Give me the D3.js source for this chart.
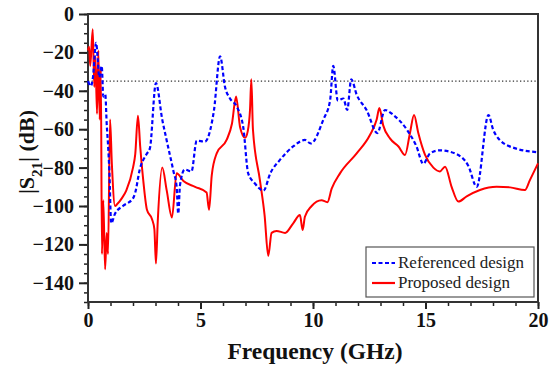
<!DOCTYPE html>
<html>
<head>
<meta charset="utf-8">
<script src="https://cdn.jsdelivr.net/npm/d3@7"></script>
<style>
  body { margin: 0; background: #fff; }
  svg text { font-family: "Liberation Serif", "Times New Roman", serif; }
</style>
</head>
<body>
<svg id="chart" width="550" height="366"></svg>
<script>
// readings (GHz, dB)
var refFreq = [0.0, 0.13, 0.22, 0.36, 0.43, 0.5, 0.61, 0.68, 0.77, 0.83, 0.9, 0.95, 1.03, 1.2, 1.55, 2.0, 2.1, 2.3, 2.6, 2.75,
  3.02, 3.3, 3.5, 3.8, 3.94, 4.01, 4.09, 4.3, 4.6, 4.83, 5.2, 5.42, 5.6, 5.87, 6.09, 6.31, 6.6, 6.9, 7.12, 7.4, 7.8, 8.1,
  8.53, 9.12, 9.64, 9.9, 10.46, 10.76, 10.9, 11.1, 11.35, 11.52, 11.7, 11.94, 12.38, 12.86, 13.2, 13.57, 14.16, 14.6, 14.9,
  15.2, 15.64, 16.3, 16.9, 17.28, 17.8, 18.0, 18.3, 19.0, 20.0];
var refS21 = [-35, -37.5, -33, -15, -23, -33, -27, -43, -42, -57, -70, -82, -109, -104, -100, -96, -93, -81, -73, -70,
  -36, -55, -66, -82, -90, -104, -89, -81, -82, -66, -66.5, -61, -50, -22, -38, -44, -48, -59, -83, -88, -92, -83,
  -76, -69, -65.6, -67.4, -55, -45, -27, -45, -44, -50, -34, -42, -50, -62, -50, -52.6, -60, -69, -78,
  -72.6, -71, -72.6, -79, -90, -52.6, -60, -65.6, -70, -72];

var propFreq = [0.0, 0.05, 0.1, 0.21, 0.28, 0.33, 0.4, 0.46, 0.52, 0.57, 0.62, 0.68, 0.76, 0.83, 0.89, 0.98, 1.06, 1.2, 1.3,
  1.5, 1.7, 2.0, 2.1, 2.22, 2.32, 2.45, 2.62, 2.85, 2.95, 3.02, 3.1, 3.3, 3.5, 3.73, 3.94, 4.24, 4.76, 5.27, 5.38, 5.5,
  5.72, 6.16, 6.4, 6.58, 6.76, 6.98, 7.1, 7.2, 7.26, 7.33, 7.64, 7.85, 8.01, 8.16, 8.38, 8.76, 9.12, 9.42, 9.54, 9.64,
  9.94, 10.38, 10.64, 10.83, 11.2, 11.94, 12.53, 12.83, 12.95, 13.12, 13.42, 13.8, 14.09, 14.31, 14.49, 14.68, 14.98,
  15.35, 15.64, 15.87, 16.16, 16.46, 16.83, 17.42, 18.16, 18.76, 19.42, 19.64, 20.0];
var propS21 = [-19, -17, -27, -8, -38, -22, -52, -19, -55, -29, -125, -97, -133, -114, -125, -55, -78, -100, -99,
  -96, -92, -80, -73, -53, -69, -86, -102, -107, -112, -130, -108, -80, -92, -106, -83, -87, -90, -93, -102, -84,
  -72.6, -65.6, -57, -43, -59, -64.5, -61, -50, -34, -60, -86.5, -105, -126, -114, -113, -114, -109, -104.7, -112.5, -105.6,
  -100, -97, -98, -91, -83, -72.6, -63, -55, -49, -58, -64.8, -69, -73.4, -62, -52.6, -62, -73.4,
  -80, -82, -79.5, -90, -97.7, -95, -91.7, -90, -90.3, -91.7, -86.5, -77.8];

var threshold = -35;
var xMajor = [0, 5, 10, 15, 20];
var yMajor = [0, -20, -40, -60, -80, -100, -120, -140];
var legendNames = ["Referenced design", "Proposed design"];

var svg = d3.select("#chart");
var margin = {top: 14, right: 12, bottom: 64, left: 88};
var width = 550 - margin.left - margin.right,
    height = 366 - margin.top - margin.bottom;

var g = svg.append("g")
    .attr("transform", "translate(" + margin.left + "," + margin.top + ")");

var x = d3.scaleLinear().domain([0, 20]).range([0, width]);
var y = d3.scaleLinear().domain([-150, 0]).range([height, 0]);

// minor ticks
g.append("g")
    .attr("transform", "translate(0," + height + ")")
    .call(d3.axisBottom(x).tickValues(d3.range(0, 21, 1)).tickSize(4).tickFormat(""))
    .call(s => s.select(".domain").remove())
    .selectAll("line").attr("stroke", "#222").attr("stroke-width", 1.5);

g.append("g")
    .call(d3.axisLeft(y).tickValues(d3.range(-150, 1, 5)).tickSize(4).tickFormat(""))
    .call(s => s.select(".domain").remove())
    .selectAll("line").attr("stroke", "#222").attr("stroke-width", 1.5);

// major ticks + labels
var xAxis = g.append("g")
    .attr("transform", "translate(0," + height + ")")
    .call(d3.axisBottom(x).tickValues(xMajor).tickSize(7).tickPadding(4));

var yAxis = g.append("g")
    .call(d3.axisLeft(y).tickValues(yMajor).tickSize(9).tickPadding(5));

[xAxis, yAxis].forEach(function(a) {
  a.select(".domain").remove();
  a.selectAll("line").attr("stroke", "#222").attr("stroke-width", 2);
  a.selectAll("text")
    .style("font-family", "'Liberation Serif', serif")
    .style("font-size", "20px")
    .style("font-weight", "bold")
    .attr("fill", "#111");
});

// frame
g.append("rect")
    .attr("width", width).attr("height", height)
    .attr("fill", "none").attr("stroke", "#333").attr("stroke-width", 2);

// dotted -35 dB line
g.append("line")
    .attr("x1", 0).attr("x2", width)
    .attr("y1", y(threshold)).attr("y2", y(threshold))
    .attr("stroke", "#333").attr("stroke-width", 1.3)
    .attr("stroke-dasharray", "1.3,2.3");

var ref = refFreq.map(function(f, i) { return {f: f, v: refS21[i]}; });
var prop = propFreq.map(function(f, i) { return {f: f, v: propS21[i]}; });

var line = d3.line()
    .x(function(d) { return x(d.f); })
    .y(function(d) { return y(d.v); })
    .curve(d3.curveMonotoneX);

g.append("path").datum(prop)
    .attr("d", line)
    .attr("fill", "none").attr("stroke", "#ff0000").attr("stroke-width", 2);

g.append("path").datum(ref)
    .attr("d", line)
    .attr("fill", "none").attr("stroke", "#0000ff").attr("stroke-width", 2.2)
    .attr("stroke-dasharray", "4,2.5");

// axis titles
svg.append("text")
    .attr("x", margin.left + width / 2 + 2)
    .attr("y", 359)
    .attr("text-anchor", "middle")
    .style("font-size", "23.5px").style("font-weight", "bold")
    .attr("fill", "#111")
    .text("Frequency (GHz)");

var yl = svg.append("text")
    .attr("transform", "translate(34," + (margin.top + height / 2 - 6) + ") rotate(-90)")
    .attr("text-anchor", "middle")
    .style("font-size", "22px").style("font-weight", "bold")
    .attr("fill", "#111");
yl.append("tspan").text("|S");
yl.append("tspan").attr("baseline-shift", "sub").style("font-size", "15px").text("21");
yl.append("tspan").text("| (dB)");

// legend
var lg = svg.append("g").attr("transform", "translate(366,247)");
lg.append("rect")
    .attr("width", 168).attr("height", 50)
    .attr("fill", "#fff").attr("stroke", "#555").attr("stroke-width", 1.2);

var styles = [
  {color: "#0000ff", dash: "4,2.5"},
  {color: "#ff0000", dash: null}
];
legendNames.forEach(function(name, i) {
  var yy = 16 + i * 20;
  lg.append("line")
      .attr("x1", 6).attr("x2", 29).attr("y1", yy).attr("y2", yy)
      .attr("stroke", styles[i].color).attr("stroke-width", 2.2)
      .attr("stroke-dasharray", styles[i].dash);
  lg.append("text")
      .attr("x", 32).attr("y", yy + 5)
      .style("font-size", "17px")
      .attr("fill", "#222")
      .text(name);
});
</script>
</body>
</html>
